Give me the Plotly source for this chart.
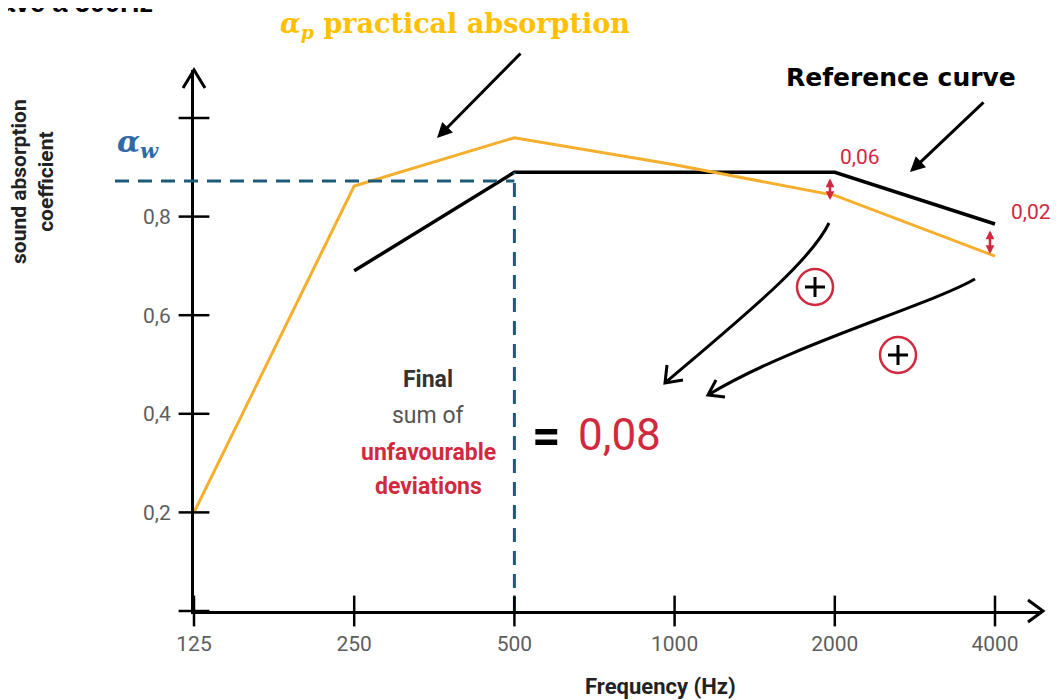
import plotly.graph_objects as go

# values
freqs = ["125", "250", "500", "1000", "2000", "4000"]
practical = [0.20, 0.862, 0.96, 0.905, 0.843, 0.72]
reference = [None, 0.69, 0.89, 0.89, 0.89, 0.785]
alpha_w = 0.872
y_ticks = [0, 0.2, 0.4, 0.6, 0.8, 1.0]
y_tick_text = ["", "0,2", "0,4", "0,6", "0,8", ""]
deviation_labels = ["0,06", "0,02"]
total_deviation = "0,08"

# the page puts an 8px body margin around the plot div
PAGE_W, PAGE_H, BODY = 1061, 700, 8
W, H = PAGE_W - BODY, PAGE_H - BODY
X0_PX, X_END_PX = 194, 1042      # 125 Hz / tip of x axis, page pixels
Y0_PX, Y_END_PX = 611, 70        # alpha=0 / tip of y axis, page pixels
L, T = X0_PX - BODY, Y_END_PX - BODY
R, B = W - (X_END_PX - BODY), H - (Y0_PX - BODY)
PX_PER_OCTAVE = 160.2
PX_PER_UNIT = 493
x_max = (X_END_PX - X0_PX) / PX_PER_OCTAVE
y_max = (Y0_PX - Y_END_PX) / PX_PER_UNIT

ORANGE = "#f6ae2d"
RED = "#d12a3e"
BLUE_DASH = "#1d5b79"
FONT = "Roboto"

positions = list(range(len(freqs)))


def px(x):
    """page pixel x -> paper x"""
    return (x - X0_PX) / (X_END_PX - X0_PX)


def py(y):
    """page pixel y -> paper y"""
    return (Y0_PX - y) / (Y0_PX - Y_END_PX)


def pix_path(points):
    return " ".join(("M" if i == 0 else "L") + f"{px(x):.5f},{py(y):.5f}"
                    for i, (x, y) in enumerate(points))


def pix_curve(p0, c1, c2, p3):
    return (f"M{px(p0[0]):.5f},{py(p0[1]):.5f} "
            f"C{px(c1[0]):.5f},{py(c1[1]):.5f} {px(c2[0]):.5f},{py(c2[1]):.5f} "
            f"{px(p3[0]):.5f},{py(p3[1]):.5f}")


fig = go.Figure()

fig.add_trace(go.Scatter(x=positions, y=reference, mode="lines",
                         line=dict(color="black", width=3.5), connectgaps=False))
fig.add_trace(go.Scatter(x=positions, y=practical, mode="lines",
                         line=dict(color=ORANGE, width=3)))
# vertical dashed line at 500 Hz
fig.add_trace(go.Scatter(x=[2, 2], y=[0, reference[2]], mode="lines",
                         line=dict(color=BLUE_DASH, width=3, dash="14px,9px")))
# cross-shaped ticks on both axes
fig.add_trace(go.Scatter(x=[0] * len(y_ticks), y=y_ticks, mode="markers", cliponaxis=False,
                         marker=dict(symbol="line-ew", size=22, line=dict(color="black", width=2.5))))
fig.add_trace(go.Scatter(x=positions, y=[0] * len(positions), mode="markers", cliponaxis=False,
                         marker=dict(symbol="line-ns", size=22, line=dict(color="black", width=2.5))))

shapes = [
    # alpha_w horizontal dashed line, running past the y axis
    dict(type="line", xref="paper", yref="y", x0=px(115), x1=2 / x_max, y0=alpha_w, y1=alpha_w,
         line=dict(color=BLUE_DASH, width=3, dash="14px,9px")),
    # axis arrow heads
    dict(type="path", xref="paper", yref="paper", path=pix_path([(183, 88), (194, 70), (205, 88)]),
         line=dict(color="black", width=3)),
    dict(type="path", xref="paper", yref="paper", path=pix_path([(1028, 600), (1043, 611), (1028, 622)]),
         line=dict(color="black", width=3)),
    # curved arrows
    dict(type="path", xref="paper", yref="paper",
         path=pix_curve((829, 223), (810, 262), (745, 315), (665, 383)),
         line=dict(color="black", width=3)),
    dict(type="path", xref="paper", yref="paper", path=pix_path([(667, 365), (665, 383), (683, 380)]),
         line=dict(color="black", width=3)),
    dict(type="path", xref="paper", yref="paper",
         path=pix_curve((975, 279), (930, 305), (790, 345), (708, 395)),
         line=dict(color="black", width=3)),
    dict(type="path", xref="paper", yref="paper", path=pix_path([(716, 380), (708, 395), (725, 397)]),
         line=dict(color="black", width=3)),
]

# circled plus signs
for cx, cy in [(815, 287), (898, 355)]:
    r = 18
    shapes.append(dict(type="circle", xref="paper", yref="paper",
                       x0=px(cx - r), x1=px(cx + r), y0=py(cy + r), y1=py(cy - r),
                       line=dict(color=RED, width=2.5)))
    shapes.append(dict(type="line", xref="paper", yref="paper",
                       x0=px(cx - 10), x1=px(cx + 10), y0=py(cy), y1=py(cy),
                       line=dict(color="black", width=3)))
    shapes.append(dict(type="line", xref="paper", yref="paper",
                       x0=px(cx), x1=px(cx), y0=py(cy - 10), y1=py(cy + 10),
                       line=dict(color="black", width=3)))


def text(x, y, s, size, color="black", family=FONT, **kw):
    kw.setdefault("xanchor", "center")
    kw.setdefault("yanchor", "middle")
    return dict(x=px(x), y=py(y), xref="paper", yref="paper", text=s, showarrow=False,
                font=dict(size=size, color=color, family=family), **kw)


def arrow(x_head, y_head, x_tail, y_tail, color="black", width=3, size=1.0, both=False):
    return dict(x=px(x_head), y=py(y_head), xref="paper", yref="paper", text="",
                showarrow=True, ax=x_tail - x_head, ay=y_tail - y_head,
                arrowhead=2, arrowsize=size, arrowwidth=width, arrowcolor=color,
                arrowside="end+start" if both else "end")


annotations = [
    text(-2, 20, "<b>ave à 500Hz</b>", 27, family="Liberation Sans", xanchor="left", yanchor="bottom"),
    text(455, 25, "<b><i>α</i><sub><i>p</i></sub> practical absorption</b>", 27, "#ffc000",
         "DejaVu Serif"),
    arrow(437, 138, 522, 52),
    text(901, 78, "<b>Reference curve</b>", 25, family="DejaVu Sans"),
    arrow(910, 172, 985, 101),
    text(860, 157, deviation_labels[0], 21, RED),
    text(1031, 212, deviation_labels[1], 21, RED),
    arrow(830, 200, 830, 177, color=RED, width=2.5, size=0.7, both=True),
    arrow(990, 254, 990, 229, color=RED, width=2.5, size=0.7, both=True),
    text(138, 143, "<b><i>α</i><sub><i>w</i></sub></b>", 30, "#2f6aa6", "DejaVu Serif"),
    text(428, 380, "<b>Final</b>", 23, "#333333"),
    text(428, 415, "sum of", 23, "#555555"),
    text(428, 452, "<b>unfavourable</b>", 23, RED),
    text(428, 486, "<b>deviations</b>", 23, RED),
    text(546, 436, "<b>=</b>", 50),
    text(619, 435, total_deviation, 44, RED),
    text(33, 182, "<b>sound absorption<br>coefficient</b>", 21, "#222222", textangle=-90),
    text(660, 686, "<b>Frequency (Hz)</b>", 22, "#222222"),
]

fig.update_layout(
    width=W, height=H,
    margin=dict(l=L, r=R, t=T, b=B, autoexpand=False),
    paper_bgcolor="white", plot_bgcolor="white",
    showlegend=False,
    shapes=shapes,
    annotations=annotations,
)
fig.update_xaxes(range=[0, x_max], tickvals=positions, ticktext=freqs,
                 showgrid=False, zeroline=False, showline=True, linecolor="black", linewidth=3,
                 ticks="outside", ticklen=12, tickcolor="rgba(0,0,0,0)",
                 tickfont=dict(family=FONT, size=21, color="#5e5e5e"))
fig.update_yaxes(range=[0, y_max], tickvals=y_ticks, ticktext=y_tick_text,
                 showgrid=False, zeroline=False, showline=True, linecolor="black", linewidth=3,
                 ticks="outside", ticklen=16, tickcolor="rgba(0,0,0,0)",
                 tickfont=dict(family=FONT, size=21, color="#5e5e5e"))

fig.write_html("out.html")
